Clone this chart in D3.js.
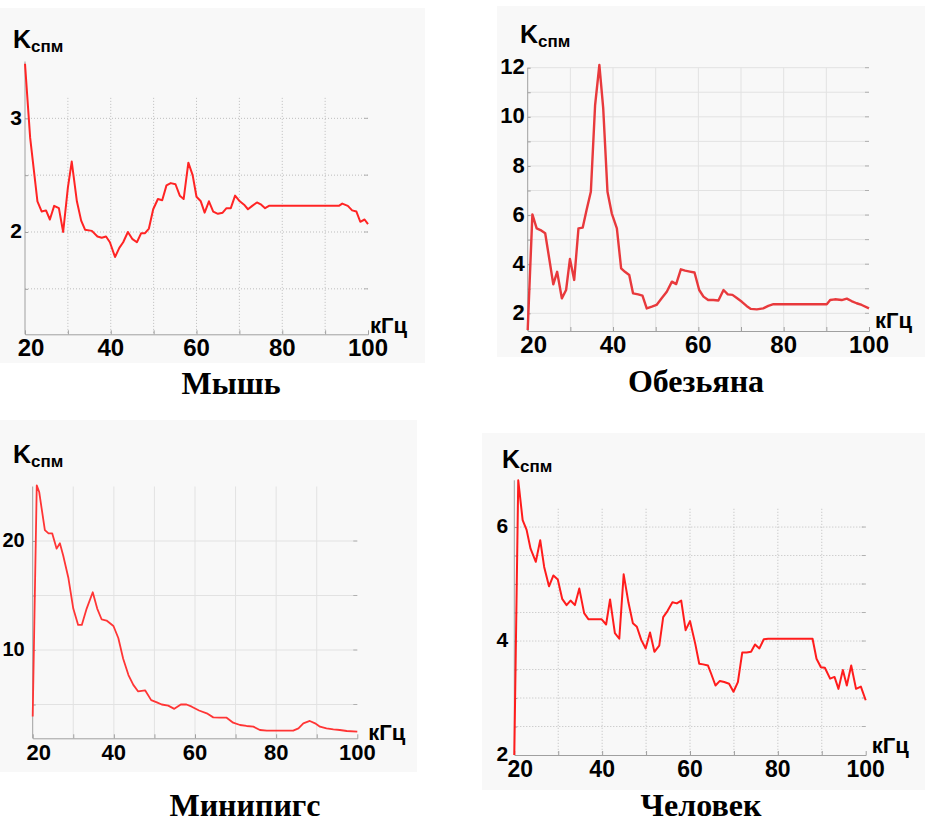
<!DOCTYPE html>
<html lang="ru">
<head>
<meta charset="UTF-8">
<title>Kспм</title>
<style>
    body { margin: 0; background: #fff; }
    text { font-family: 'Liberation Sans', Arial, sans-serif; font-weight: bold; fill: #000; }
    .title { font-family: 'Liberation Serif', 'Times New Roman', serif; font-size: 32px; }
</style>
</head>
<body>
<script src="https://d3js.org/d3.v7.min.js"></script>
<script>

    // ---- data ----
    const xTickLabels = [20, 40, 60, 80, 100];
    const xGrid = [30, 40, 50, 60, 70, 80, 90];

    const mouseKHz = [20, 21.2, 22.9, 23.9, 24.9, 25.8, 26.8, 27.9, 28.9, 30.0, 30.9, 32.1, 33.1, 34.0, 35.6, 36.9, 37.9, 38.9, 39.8, 41.0,
        42.0, 42.9, 44.0, 45.0, 46.1, 47.1, 48.0, 48.9, 49.9, 51.0, 52.0, 53.0, 54.0, 55.1, 56.1, 57.0, 58.1, 59.1, 60.0, 61.0,
        61.9, 62.9, 63.9, 65.0, 66.1, 67.0, 68.0, 69.0, 70.1, 71.1, 72.0, 73.0, 74.1, 75.1, 76.0, 76.9, 93.2, 94.0, 95.3, 96.3,
        97.3, 98.2, 99.2, 100];
    const mouseK = [3.48, 2.83, 2.27, 2.18, 2.19, 2.11, 2.23, 2.21, 2.00, 2.39, 2.62, 2.27, 2.10, 2.02, 2.01, 1.96, 1.95, 1.96, 1.91, 1.78,
        1.86, 1.91, 2.00, 1.94, 1.91, 1.99, 1.99, 2.03, 2.20, 2.29, 2.28, 2.41, 2.43, 2.42, 2.32, 2.29, 2.61, 2.50, 2.31, 2.27,
        2.17, 2.27, 2.18, 2.16, 2.17, 2.21, 2.21, 2.32, 2.27, 2.24, 2.20, 2.23, 2.26, 2.24, 2.21, 2.23, 2.23, 2.25, 2.23, 2.19,
        2.18, 2.09, 2.11, 2.07];

    const monkeyKHz = [20, 21.1, 22.1, 23.0, 24.1, 25.1, 26.0, 26.9, 28.0, 29.0, 29.9, 30.9, 31.9, 32.9, 33.8, 34.8, 35.8, 36.8, 37.7, 38.7,
        39.7, 40.9, 41.9, 42.8, 43.8, 44.7, 45.9, 46.9, 47.9, 49.1, 50.2, 51.4, 52.6, 53.8, 54.8, 55.9, 56.9, 58.0, 59.1, 60.2,
        61.2, 62.3, 63.5, 64.7, 65.9, 66.9, 68.0, 69.1, 70.2, 71.3, 72.3, 73.7, 75.2, 76.4, 77.6, 90.1, 90.9, 92.0, 93.6, 94.8,
        95.9, 97.1, 98.3, 100];
    const monkeyK = [1.32, 6.03, 5.46, 5.39, 5.26, 4.17, 3.18, 3.69, 2.61, 2.95, 4.21, 3.36, 5.46, 5.49, 6.21, 6.95, 10.48, 12.11, 10.35, 6.95,
        6.07, 5.46, 3.83, 3.69, 3.56, 2.81, 2.77, 2.72, 2.20, 2.27, 2.34, 2.61, 2.88, 3.29, 3.19, 3.79, 3.74, 3.70, 3.66, 2.95,
        2.68, 2.54, 2.54, 2.52, 2.95, 2.77, 2.75, 2.61, 2.47, 2.30, 2.18, 2.16, 2.20, 2.30, 2.37, 2.37, 2.54, 2.57, 2.54, 2.60,
        2.50, 2.41, 2.34, 2.20];

    const minipigKHz = [20, 21.0, 21.6, 22.2, 23.0, 23.9, 24.8, 25.9, 26.7, 27.5, 28.8, 30.0, 31.2, 32.1, 33.3, 34.8, 35.9, 37.0, 38.2, 39.9,
        41.1, 42.3, 43.6, 44.8, 46.0, 47.7, 49.2, 50.6, 51.8, 53.4, 54.9, 56.5, 57.9, 59.2, 61.0, 62.9, 64.5, 66.2, 67.8, 69.4,
        71.1, 72.7, 74.4, 76.0, 77.7, 84.2, 85.5, 86.7, 88.3, 89.6, 90.8, 92.4, 94.1, 95.7, 97.4, 100];
    const minipigK = [3.9, 25.1, 24.5, 23.0, 21.0, 20.7, 20.7, 19.3, 19.8, 18.7, 16.6, 13.8, 12.3, 12.3, 13.8, 15.3, 13.8, 12.8, 12.7, 12.2,
        11.1, 9.2, 7.7, 6.8, 6.2, 6.3, 5.4, 5.2, 5.0, 4.9, 4.6, 5.0, 5.0, 4.8, 4.45, 4.19, 3.82, 3.79, 3.79, 3.33,
        3.12, 3.03, 2.97, 2.66, 2.60, 2.60, 2.81, 3.27, 3.49, 3.27, 2.97, 2.81, 2.72, 2.66, 2.57, 2.51];

    const humanKHz = [20, 20.9, 21.9, 22.8, 23.7, 24.9, 25.9, 26.8, 27.9, 28.9, 29.9, 30.9, 31.9, 32.8, 33.8, 34.8, 35.9, 36.9, 39.9, 40.9,
        41.8, 42.9, 43.9, 44.9, 46.0, 47.0, 47.9, 48.9, 49.9, 50.9, 51.9, 53.0, 53.9, 54.9, 56.0, 57.0, 58.0, 59.0, 60.0, 61.2,
        62.1, 63.0, 64.1, 64.8, 65.8, 66.8, 67.8, 68.9, 69.9, 70.9, 71.9, 72.9, 73.9, 74.8, 75.8, 76.8, 77.8, 87.9, 88.8, 89.8,
        90.7, 91.9, 92.9, 93.8, 94.8, 95.7, 96.7, 97.8, 98.9, 100];
    const humanK = [2.0, 6.82, 6.12, 5.95, 5.62, 5.39, 5.77, 5.30, 4.96, 5.15, 5.08, 4.74, 4.63, 4.71, 4.63, 4.92, 4.49, 4.38, 4.38, 4.29,
        4.73, 4.14, 4.04, 5.17, 4.67, 4.31, 4.25, 4.02, 3.87, 4.15, 3.81, 3.92, 4.42, 4.53, 4.68, 4.66, 4.71, 4.19, 4.35, 3.95,
        3.60, 3.59, 3.57, 3.43, 3.22, 3.30, 3.28, 3.25, 3.11, 3.28, 3.80, 3.80, 3.81, 3.94, 3.87, 4.03, 4.04, 4.04, 3.69, 3.54,
        3.53, 3.34, 3.37, 3.16, 3.49, 3.22, 3.57, 3.16, 3.20, 2.96];

    const mouseYGrid = [1.5, 2, 2.5, 3];
    const mouseYLabels = [2, 3];
    const monkeyYGrid = [2, 3, 4, 5, 6, 7, 8, 9, 10, 11, 12];
    const monkeyYLabels = [2, 4, 6, 8, 10, 12];
    const minipigYGrid = [5, 10, 15, 20];
    const minipigYLabels = [10, 20];
    const humanYGrid = [2.5, 3, 3.5, 4, 4.5, 5, 5.5, 6];
    const humanYLabels = [2, 4, 6];

    const titles = ['Мышь', 'Обезьяна', 'Минипигс', 'Человек'];

    // ---- layout of each panel ----
    const panels = [
        {title: titles[0], xs: mouseKHz, ys: mouseK, yDomain: [1.1, 3.5], gridTop: 3.18,
         yGrid: mouseYGrid, yLabels: mouseYLabels,
         left: 25, right: 368, top: 61.5, bottom: 334.3,
         bg: [0, 8, 425, 355], kPos: [13, 48], ySize: 21, xSize: 24, yLabelGap: 3, unitDx: 2, unitDy: -1,
         titlePos: [231, 394], stroke: '#ff2424', width: 2, dash: '1,2'},
        {title: titles[1], xs: monkeyKHz, ys: monkeyK, yDomain: [1.28, 12], gridTop: 12,
         yGrid: monkeyYGrid, yLabels: monkeyYLabels,
         left: 527.7, right: 869, top: 67.7, bottom: 331,
         bg: [497, 6, 428, 351], kPos: [520, 43], ySize: 22, xSize: 24, yLabelGap: 3, unitDx: 6, unitDy: -3,
         titlePos: [696, 392], stroke: '#e8393c', width: 2.4, dash: null},
        {title: titles[2], xs: minipigKHz, ys: minipigK, yDomain: [1.9, 25], gridTop: 25,
         yGrid: minipigYGrid, yLabels: minipigYLabels,
         left: 32.7, right: 357.3, top: 486.5, bottom: 738.3,
         bg: [0, 420, 417, 352], kPos: [13, 463], ySize: 20, xSize: 22, yLabelGap: 8, unitDx: 11, unitDy: 2,
         titlePos: [245, 816], stroke: '#ff3535', width: 1.8, dash: null},
        {title: titles[3], xs: humanKHz, ys: humanK, yDomain: [2, 6.82], gridTop: 6.32,
         yGrid: humanYGrid, yLabels: humanYLabels,
         left: 514.3, right: 865.7, top: 480.3, bottom: 755,
         bg: [482, 433, 443, 357], kPos: [502, 468], ySize: 21, xSize: 23, yLabelGap: 6, unitDx: 6, unitDy: -2,
         titlePos: [701, 816], stroke: '#ff1c1c', width: 2, dash: '1,2'}
    ];

    const svg = d3.select('body').append('svg')
        .attr('width', 925)
        .attr('height', 824);

    panels.forEach(drawPanel);

    function drawPanel(p) {
        let g = svg.append('g');

        g.append('rect')
            .attr('x', p.bg[0]).attr('y', p.bg[1])
            .attr('width', p.bg[2]).attr('height', p.bg[3])
            .style('fill', '#f8f8f8');

        let x = d3.scaleLinear().domain([20, 100]).range([p.left, p.right]);
        let y = d3.scaleLinear().domain(p.yDomain).range([p.bottom, p.top]);

        // grid
        g.selectAll('.vgrid')
            .data(xGrid)
            .enter().append('line')
            .attr('x1', d => x(d)).attr('x2', d => x(d))
            .attr('y1', y(p.gridTop)).attr('y2', p.bottom)
            .style('stroke', p.dash ? '#bdbdbd' : '#e2e2e2')
            .style('stroke-width', 1)
            .style('stroke-dasharray', p.dash);

        g.selectAll('.hgrid')
            .data(p.yGrid)
            .enter().append('line')
            .attr('x1', p.left).attr('x2', p.right)
            .attr('y1', d => y(d)).attr('y2', d => y(d))
            .style('stroke', p.dash ? '#bdbdbd' : '#e2e2e2')
            .style('stroke-width', 1)
            .style('stroke-dasharray', p.dash);

        // right-side tick marks
        g.selectAll('.rtick')
            .data(p.yGrid)
            .enter().append('line')
            .attr('x1', p.right - 4).attr('x2', p.right)
            .attr('y1', d => y(d)).attr('y2', d => y(d))
            .style('stroke', '#b0b0b0');

        // axes
        let xAxis = d3.axisBottom(x).tickValues(xGrid).tickSize(-4).tickFormat('');
        g.append('g')
            .attr('transform', 'translate(0,' + p.bottom + ')')
            .call(xAxis)
            .call(a => a.selectAll('line, path').style('stroke', '#a0a0a0'));

        let yAxis = d3.axisLeft(y).tickValues(p.yGrid).tickSize(-3).tickFormat('');
        g.append('g')
            .attr('transform', 'translate(' + p.left + ',0)')
            .call(yAxis)
            .call(a => a.select('.domain').attr('d', 'M0,' + p.bottom + 'V' + p.top))
            .call(a => a.selectAll('line, path').style('stroke', '#a0a0a0'));

        // tick labels (the first one sits a little right of the y axis)
        g.selectAll('.xlab')
            .data(xTickLabels)
            .enter().append('text')
            .attr('x', d => x(d) + (d === 20 ? 6 : 0))
            .attr('y', p.bottom + 22)
            .attr('text-anchor', 'middle')
            .style('font-size', p.xSize + 'px')
            .text(d => d);

        g.selectAll('.ylab')
            .data(p.yLabels)
            .enter().append('text')
            .attr('x', p.left - p.yLabelGap)
            .attr('y', d => y(d))
            .attr('dy', '0.3em')
            .attr('text-anchor', 'end')
            .style('font-size', p.ySize + 'px')
            .text(d => d);

        // axis names
        let k = g.append('text')
            .attr('x', p.kPos[0])
            .attr('y', p.kPos[1])
            .style('font-size', '25px')
            .text('K');
        k.append('tspan')
            .attr('dy', 4)
            .style('font-size', '17px')
            .text('спм');

        g.append('text')
            .attr('x', p.right + p.unitDx)
            .attr('y', p.bottom + p.unitDy)
            .style('font-size', '22px')
            .text('кГц');

        // curve
        let pts = d3.zip(p.xs, p.ys);
        g.append('path')
            .datum(pts)
            .attr('d', d3.line()
                .curve(d3.curveLinear)
                .x(d => x(d[0]))
                .y(d => y(d[1])))
            .style('fill', 'none')
            .style('stroke', p.stroke)
            .style('stroke-width', p.width)
            .style('stroke-linejoin', 'round');

        g.append('text')
            .attr('class', 'title')
            .attr('x', p.titlePos[0])
            .attr('y', p.titlePos[1])
            .attr('text-anchor', 'middle')
            .text(p.title);
    }

</script>
</body>
</html>
